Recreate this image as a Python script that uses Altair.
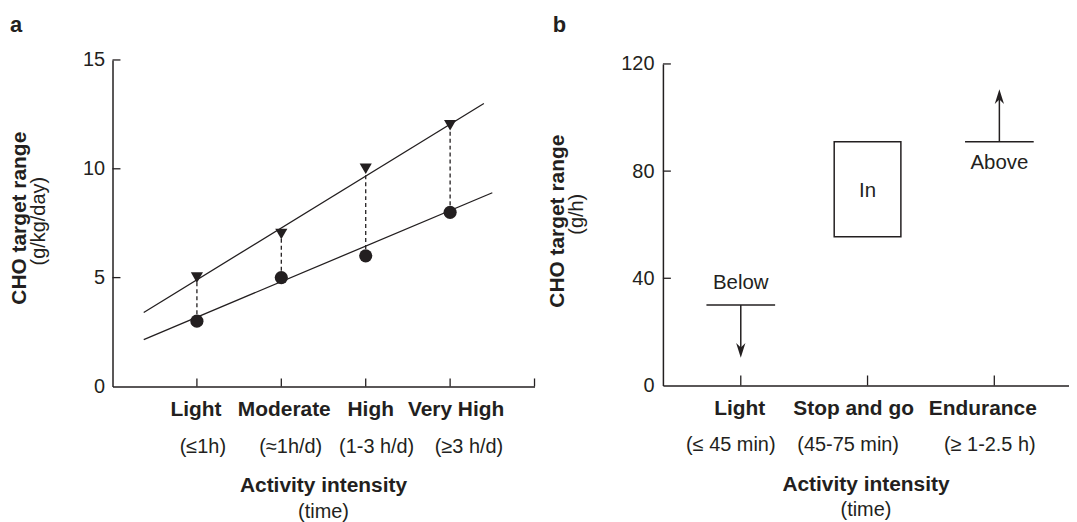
import altair as alt
import pandas as pd

INK = "#231f20"
FONT = "Liberation Sans, Arial, Helvetica, sans-serif"

# ---------------- Panel a data ----------------
a_levels = [1, 2, 3, 4]
a_names = ["Light", "Moderate", "High", "Very High"]
a_times = ["(≤1h)", "(≈1h/d)", "(1-3 h/d)", "(≥3 h/d)"]
a_upper = [5, 7, 10, 12]      # triangles
a_lower = [3, 5, 6, 8]        # circles
a_upper_fit_x = [0.37, 4.4]
a_upper_fit_y = [3.4, 13.0]
a_lower_fit_x = [0.37, 4.5]
a_lower_fit_y = [2.15, 8.9]
a_yticks = [0, 5, 10, 15]
a_xticks = [1, 2, 3, 4, 5]

# ---------------- Panel b data ----------------
b_levels = [1, 2, 3]
b_names = ["Light", "Stop and go", "Endurance"]
b_times = ["(≤  45 min)", "(45-75 min)", "(≥ 1-2.5 h)"]
b_yticks = [0, 40, 80, 120]
b_xticks = [1, 2, 3]
box_x = [2.0]
box_low = [55.5]
box_high = [91]
limit_x = [1.0, 3.04]          # Below, Above
limit_y = [30, 91]
arrow_end = [12, 108]
tip_down_x, tip_down_y = [1.0], [10.3]
tip_up_x, tip_up_y = [3.04], [110.6]
note_text = ["Below", "In", "Above"]
note_x = [1.0, 2.0, 3.04]
note_y = [38.5, 73, 83.5]

# ---------------- layout / style ----------------
WA, HA = 424, 328
WB, HB = 408, 327
B_TOP = 4   # panel b's 120 sits a little lower than panel a's 15
# small horizontal nudges of the two-line category labels (px)
A_NAME_DX = [-1, 3, 5, 6]
A_TIME_DX = [6, 9.5, 11, 19]
B_NAME_DX = [-1, -14, -11.5]
B_TIME_DX = [-10, -19.5, -4.5]


def label(text, x, y, size=20, bold=False, angle=0, baseline="middle", align="center"):
    kw = dict(font=FONT, fontSize=size, color=INK, baseline=baseline, align=align)
    if bold:
        kw["fontWeight"] = "bold"
    if angle:
        kw["angle"] = angle
    return alt.Chart(pd.DataFrame({"t": [text]})).mark_text(**kw).encode(
        x=alt.value(x), y=alt.value(y), text="t:N")


def cat_labels(df, xenc, field, y, dxs, size, bold):
    layers = []
    for i, dx in enumerate(dxs):
        kw = dict(font=FONT, fontSize=size, color=INK, baseline="middle", dx=dx)
        if bold:
            kw["fontWeight"] = "bold"
        layers.append(alt.Chart(df.iloc[[i]]).mark_text(**kw).encode(
            x=xenc, y=alt.value(y), text=f"{field}:N"))
    return layers


# ---------------- Panel a ----------------
xa = alt.X("x:Q", scale=alt.Scale(domain=[0, 5], nice=False, zero=False),
           axis=alt.Axis(title=None, labels=False, ticks=False, grid=False,
                         domainColor=INK, domainWidth=1.5))
ya = alt.Y("y:Q", scale=alt.Scale(domain=[0, 15], nice=False),
           axis=alt.Axis(title=None, values=a_yticks, ticks=False, grid=False,
                         labelPadding=8, labelFontSize=20, labelFont=FONT,
                         labelColor=INK, domainColor=INK, domainWidth=1.5))

fit_df = pd.DataFrame({
    "x": a_upper_fit_x + a_lower_fit_x,
    "y": a_upper_fit_y + a_lower_fit_y,
    "g": ["upper"] * 2 + ["lower"] * 2,
})
pts_df = pd.DataFrame({"x": a_levels, "y": a_lower, "y2": a_upper,
                       "name": a_names, "time": a_times})
tri_df = pd.DataFrame({"x": a_levels, "y": a_upper})

a_fit = alt.Chart(fit_df).mark_line(color=INK, strokeWidth=1.3).encode(
    x=xa, y=ya, detail="g:N")
a_dash = alt.Chart(pts_df).mark_rule(color=INK, strokeWidth=1.3, strokeDash=[4, 3]).encode(
    x=xa, y=ya, y2="y2:Q")
a_tri = alt.Chart(tri_df).mark_point(shape="triangle-down", filled=True, size=150,
                                     color=INK, opacity=1).encode(x=xa, y=ya)
a_circ = alt.Chart(pts_df).mark_circle(size=175, color=INK, opacity=1).encode(x=xa, y=ya)

a_ytick = alt.Chart(pd.DataFrame({"y": a_yticks[1:]})).mark_rule(color=INK, strokeWidth=1.3).encode(
    y=ya, x=alt.value(0), x2=alt.value(8))
a_xtick = alt.Chart(pd.DataFrame({"x": a_xticks})).mark_rule(color=INK, strokeWidth=1.3).encode(
    x=xa, y=alt.value(HA), y2=alt.value(HA - 8))
a_cats = (cat_labels(pts_df, xa, "name", HA + 24, A_NAME_DX, 21, True)
          + cat_labels(pts_df, xa, "time", HA + 61, A_TIME_DX, 20, False))

a_texts = [
    label("Activity intensity", WA / 2, HA + 100, 21, True),
    label("(time)", WA / 2, HA + 126, 20),
    label("CHO target range", -93, 159, 21, True, 270),
    label("(g/kg/day)", -74, 162, 20, False, 270),
    label("a", -97, -28.3, 22, True, baseline="alphabetic"),
]

panel_a = alt.layer(a_fit, a_dash, a_tri, a_circ, a_ytick, a_xtick, *a_cats,
                    *a_texts).properties(width=WA, height=HA)

# ---------------- Panel b ----------------
xb = alt.X("x:Q", scale=alt.Scale(domain=[0.425, 3.55], nice=False, zero=False),
           axis=alt.Axis(title=None, labels=False, ticks=False, grid=False,
                         domainColor=INK, domainWidth=1.5))
yb = alt.Y("y:Q", scale=alt.Scale(domain=[0, 120], nice=False, range=[HB, B_TOP]),
           axis=alt.Axis(title=None, values=b_yticks, ticks=False, grid=False,
                         labelPadding=9, labelFontSize=20, labelFont=FONT,
                         labelColor=INK, domainColor=INK, domainWidth=1.5))

box_df = pd.DataFrame({"x": box_x, "y": box_low, "y2": box_high})
lim_df = pd.DataFrame({"x": limit_x, "y": limit_y, "y2": arrow_end})
cat_df = pd.DataFrame({"x": b_levels, "name": b_names, "time": b_times})
note_df = pd.DataFrame({"x": note_x, "y": note_y, "t": note_text})

b_box = alt.Chart(box_df).mark_bar(size=67, fill="white", stroke=INK, strokeWidth=1.5).encode(
    x=xb, y=yb, y2="y2:Q")
b_lim = alt.Chart(lim_df).mark_tick(orient="horizontal", size=69, thickness=1.5,
                                    color=INK, opacity=1).encode(x=xb, y=yb)
b_shaft = alt.Chart(lim_df).mark_rule(color=INK, strokeWidth=1.5).encode(x=xb, y=yb, y2="y2:Q")
DOWN = "M0,0 L-0.62,-2 L0,-1.4 L0.62,-2 Z"
UP = "M0,0 L-0.62,2 L0,1.4 L0.62,2 Z"
b_head_d = alt.Chart(pd.DataFrame({"x": tip_down_x, "y": tip_down_y})).mark_point(
    shape=DOWN, size=225, filled=True, color=INK, opacity=1).encode(x=xb, y=yb)
b_head_u = alt.Chart(pd.DataFrame({"x": tip_up_x, "y": tip_up_y})).mark_point(
    shape=UP, size=225, filled=True, color=INK, opacity=1).encode(x=xb, y=yb)
b_note = alt.Chart(note_df).mark_text(font=FONT, fontSize=20.5, color=INK,
                                      baseline="middle", dy=1).encode(x=xb, y=yb, text="t:N")

b_ytick = alt.Chart(pd.DataFrame({"y": b_yticks[1:]})).mark_rule(color=INK, strokeWidth=1.3).encode(
    y=yb, x=alt.value(0), x2=alt.value(8))
b_xtick = alt.Chart(pd.DataFrame({"x": b_xticks})).mark_rule(color=INK, strokeWidth=1.3).encode(
    x=xb, y=alt.value(HB), y2=alt.value(HB - 10))
b_cats = (cat_labels(cat_df, xb, "name", HB + 24, B_NAME_DX, 21, True)
          + cat_labels(cat_df, xb, "time", HB + 60, B_TIME_DX, 20, False))

b_texts = [
    label("Activity intensity", WB / 2, HB + 100, 21, True),
    label("(time)", WB / 2, HB + 125, 20),
    label("CHO target range", -105, 162, 21, True, 270),
    label("(g/h)", -86, 155, 20, False, 270),
    label("b", -104, -28.3, 22, True, baseline="alphabetic"),
]

panel_b = alt.layer(b_box, b_lim, b_shaft, b_head_d, b_head_u, b_note, b_ytick, b_xtick,
                    *b_cats, *b_texts).properties(width=WB, height=HB)

chart = alt.hconcat(panel_a, panel_b, spacing=12).properties(
    padding={"left": 1, "top": 4, "right": 0, "bottom": 0},
    background="white",
).configure_view(stroke=None)

chart.save("out.html", embed_options={"renderer": "svg", "actions": False})
